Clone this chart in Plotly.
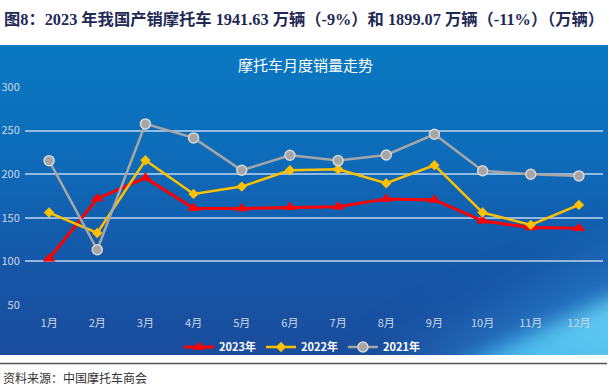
import base64
import plotly.graph_objects as go

months = ["1月", "2月", "3月", "4月", "5月", "6月", "7月", "8月", "9月", "10月", "11月", "12月"]
sales_2023 = [103, 172, 195.8, 161, 160.6, 162, 162.8, 171.7, 170.5, 146.5, 138.8, 138]
sales_2022 = [156, 132.6, 216, 177.4, 185.8, 204.5, 205.7, 189.6, 210.3, 156, 141.9, 164.8]
sales_2021 = [215.5, 113.4, 257.7, 241.6, 204.5, 221.7, 215.6, 222, 245.8, 204, 200, 198]
y_ticks = [50, 100, 150, 200, 250, 300]

W, H = 608, 386
L, R, T, B = 25, 5, 87, 81
pw, ph = W - L - R, H - T - B

def px_x(x):
    return (x - L) / pw

def px_y(y):
    return (H - B - y) / ph

svg = """<svg xmlns='http://www.w3.org/2000/svg' width='608' height='310' viewBox='0 0 608 310'>
<defs>
<linearGradient id='g' x1='0' y1='0' x2='0' y2='1'>
<stop offset='0' stop-color='#0a79c1'/>
<stop offset='0.35' stop-color='#0d6cb9'/>
<stop offset='0.7' stop-color='#1657a8'/>
<stop offset='1' stop-color='#1a4c9c'/>
</linearGradient>
<linearGradient id='c' x1='0' y1='1' x2='1' y2='0'>
<stop offset='0' stop-color='#3fb3ea'/>
<stop offset='1' stop-color='#6cd0f4'/>
</linearGradient>
<filter id='b' x='-50%' y='-50%' width='200%' height='200%'><feGaussianBlur stdDeviation='10'/></filter>
<filter id='b2' x='-50%' y='-50%' width='200%' height='200%'><feGaussianBlur stdDeviation='25'/></filter>
</defs>
<rect width='608' height='310' fill='url(#g)'/>
<polygon points='370,330 640,330 640,195' fill='#2a86d0' opacity='0.6' filter='url(#b2)'/>
<polygon points='440,330 640,330 640,240' fill='url(#c)' filter='url(#b)'/>
</svg>"""
bg_src = "data:image/svg+xml;base64," + base64.b64encode(svg.encode()).decode()

fig = go.Figure()
fig.add_trace(go.Scatter(
    x=months, y=sales_2023, name="2023年", mode="lines+markers",
    line=dict(color="#ff0000", width=3),
    marker=dict(symbol="triangle-up", size=11, color="#ff0000"),
))
fig.add_trace(go.Scatter(
    x=months, y=sales_2022, name="2022年", mode="lines+markers",
    line=dict(color="#ffc000", width=2.5),
    marker=dict(symbol="diamond", size=8, color="#ffc000"),
))
fig.add_trace(go.Scatter(
    x=months, y=sales_2021, name="2021年", mode="lines+markers",
    line=dict(color="#a6a6a6", width=2.5),
    marker=dict(symbol="circle", size=10, color="#a6a6a6", line=dict(color="#d9d9d9", width=1.5)),
))

font_cn = "Noto Sans CJK SC, Noto Sans, sans-serif"

fig.update_layout(
    width=W, height=H,
    margin=dict(l=L, r=R, t=T, b=B, autoexpand=False),
    paper_bgcolor="white",
    plot_bgcolor="rgba(0,0,0,0)",
    showlegend=True,
    legend=dict(
        orientation="h", x=px_x(302), xanchor="center", y=px_y(347), yanchor="middle",
        font=dict(family=font_cn, size=11, color="white", weight="bold"),
        bgcolor="rgba(0,0,0,0)", itemwidth=30, tracegroupgap=0,
    ),
    xaxis=dict(
        type="category", range=[-0.5, 11.5], automargin=False,
        showgrid=False, zeroline=False, showline=False,
        tickfont=dict(family=font_cn, size=11, color="#c9d8ea"),
        ticks="outside", ticklen=8, tickcolor="rgba(0,0,0,0)",
    ),
    yaxis=dict(
        range=[50, 300], tickvals=y_ticks, automargin=False, showgrid=True,
        gridcolor="rgba(190,215,240,0.75)", gridwidth=1.5,
        zeroline=False, showline=False,
        tickfont=dict(family=font_cn, size=11, color="#c9d8ea"),
        ticks="outside", ticklen=2, tickcolor="rgba(0,0,0,0)",
    ),
    images=[dict(
        source=bg_src, xref="paper", yref="paper",
        x=px_x(0), y=px_y(45), sizex=608 / pw, sizey=310 / ph,
        xanchor="left", yanchor="top", sizing="stretch", layer="below",
    )],
    shapes=[dict(
        type="line", xref="paper", yref="paper",
        x0=px_x(0), x1=px_x(607), y0=px_y(363.5), y1=px_y(363.5),
        line=dict(color="#555555", width=1.5),
    )],
    annotations=[
        dict(
            text="图8：2023 年我国产销摩托车 1941.63 万辆（-9%）和 1899.07 万辆（-11%）（万辆）",
            xref="paper", yref="paper", x=px_x(606), y=px_y(19),
            xanchor="right", yanchor="middle", showarrow=False,
            font=dict(family="Liberation Serif, Noto Sans CJK SC", size=16.3, color="#1f2a55", weight="bold"),
        ),
        dict(
            text="摩托车月度销量走势",
            xref="paper", yref="paper", x=px_x(305), y=px_y(64),
            xanchor="center", yanchor="middle", showarrow=False,
            font=dict(family=font_cn, size=15, color="white"),
        ),
        dict(
            text="资料来源：中国摩托车商会",
            xref="paper", yref="paper", x=px_x(1), y=px_y(377),
            xanchor="left", yanchor="middle", showarrow=False,
            font=dict(family=font_cn, size=12, color="#333333"),
        ),
    ],
)

fig.write_html(
    "out.html",
    config={"displayModeBar": False},
    post_script="document.body.style.margin='0';document.body.style.overflow='hidden';",
)
